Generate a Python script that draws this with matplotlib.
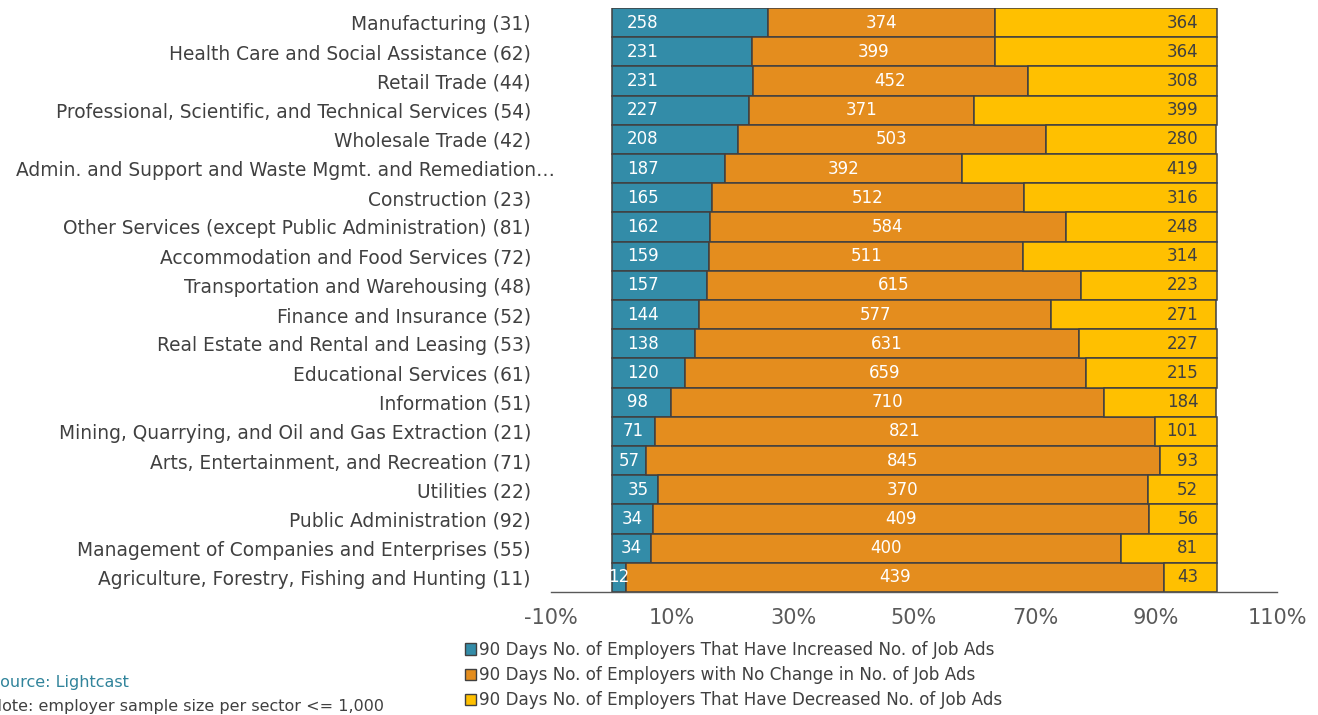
import matplotlib
matplotlib.use("Agg")
import matplotlib.pyplot as plt
from matplotlib.patches import Patch
from matplotlib.transforms import ScaledTranslation
import numpy as np

categories = [
    "Manufacturing (31)",
    "Health Care and Social Assistance (62)",
    "Retail Trade (44)",
    "Professional, Scientific, and Technical Services (54)",
    "Wholesale Trade (42)",
    "Admin. and Support and Waste Mgmt. and Remediation\u2026",
    "Construction (23)",
    "Other Services (except Public Administration) (81)",
    "Accommodation and Food Services (72)",
    "Transportation and Warehousing (48)",
    "Finance and Insurance (52)",
    "Real Estate and Rental and Leasing (53)",
    "Educational Services (61)",
    "Information (51)",
    "Mining, Quarrying, and Oil and Gas Extraction (21)",
    "Arts, Entertainment, and Recreation (71)",
    "Utilities (22)",
    "Public Administration (92)",
    "Management of Companies and Enterprises (55)",
    "Agriculture, Forestry, Fishing and Hunting (11)",
]
increased = [258, 231, 231, 227, 208, 187, 165, 162, 159, 157, 144, 138, 120, 98, 71, 57, 35, 34, 34, 12]
no_change = [374, 399, 452, 371, 503, 392, 512, 584, 511, 615, 577, 631, 659, 710, 821, 845, 370, 409, 400, 439]
decreased = [364, 364, 308, 399, 280, 419, 316, 248, 314, 223, 271, 227, 215, 184, 101, 93, 52, 56, 81, 43]
series_names = [
    "90 Days No. of Employers That Have Increased No. of Job Ads",
    "90 Days No. of Employers with No Change in No. of Job Ads",
    "90 Days No. of Employers That Have Decreased No. of Job Ads",
]
xticks = [-10, 10, 30, 50, 70, 90, 110]
source_text = "Source: Lightcast"
note_text = "Note: employer sample size per sector <= 1,000"

colors = ["#338CA8", "#E48D1E", "#FFC000"]
edge = "#404040"
plt.rcParams["font.family"] = ["DejaVu Sans"]

fig = plt.figure(figsize=(13.18, 7.15), dpi=100)
W, H = 1318, 715
ax = fig.add_axes([551 / W, 123 / H, 726 / W, 584 / H])

inc = np.array(increased, float)
noc = np.array(no_change, float)
dec = np.array(decreased, float)
tot = inc + noc + dec
p1 = inc / tot * 100
p2 = noc / tot * 100
p3 = dec / tot * 100
y = np.arange(len(categories))

ax.barh(y, p1, height=1.0, color=colors[0], edgecolor=edge, linewidth=1.1)
ax.barh(y, p2, left=p1, height=1.0, color=colors[1], edgecolor=edge, linewidth=1.1)
ax.barh(y, p3, left=p1 + p2, height=1.0, color=colors[2], edgecolor=edge, linewidth=1.1)

lab_fs = 12
for i in range(len(categories)):
    if p1[i] >= 7.4:
        ax.text(2.6, y[i], str(increased[i]), ha="left", va="center", color="white", fontsize=lab_fs)
    else:
        ax.text(p1[i] / 2, y[i], str(increased[i]), ha="center", va="center", color="white", fontsize=lab_fs)
    ax.text(p1[i] + p2[i] / 2, y[i], str(no_change[i]), ha="center", va="center", color="white", fontsize=lab_fs)
    ax.text(97.0, y[i], str(decreased[i]), ha="right", va="center", color="#404040", fontsize=lab_fs)

ax.set_xlim(-10, 110)
ax.set_ylim(len(categories) - 0.5, -0.5)
ax.set_xticks(xticks)
ax.set_xticklabels([f"{t}%" for t in xticks])
ax.set_yticks(y)
ax.set_yticklabels(categories)
ax.tick_params(axis="x", length=0, pad=11.5, labelsize=15, labelcolor="#595959")
ax.tick_params(axis="y", length=0, pad=14.4, labelsize=13.4, labelcolor="#404040")
for s in ["top", "right", "left"]:
    ax.spines[s].set_visible(False)
ax.spines["bottom"].set_color("#595959")
ax.spines["bottom"].set_linewidth(1.0)

# the truncated label sits further right in the reference
lbl = ax.get_yticklabels()[5]
lbl.set_transform(lbl.get_transform() + ScaledTranslation(24 / 100, 0, fig.dpi_scale_trans))

handles = [Patch(facecolor=c, edgecolor=edge, linewidth=1.0) for c in colors]
fig.legend(handles, series_names, loc="upper left", bbox_to_anchor=(465 / W, 1 - 641 / H),
           frameon=False, fontsize=12.1, labelcolor="#404040", handlelength=0.65, handleheight=0.65,
           handletextpad=0.2, labelspacing=0.42, borderaxespad=0, borderpad=0)

fig.text(-10 / W, 1 - 682 / H, source_text, color="#31849B", fontsize=11.5, ha="left", va="center")
fig.text(-10 / W, 1 - 707 / H, note_text, color="#404040", fontsize=11.5, ha="left", va="center")

fig.savefig("out.png", dpi=100)
